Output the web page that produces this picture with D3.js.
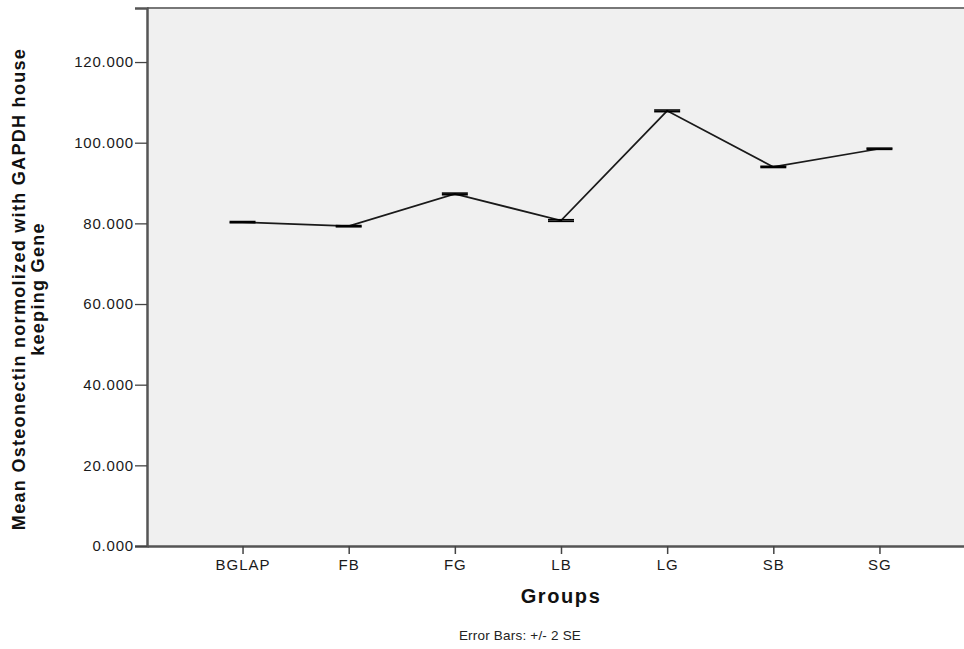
<!DOCTYPE html>
<html>
<head>
<meta charset="utf-8">
<script src="https://cdn.jsdelivr.net/npm/d3@7"></script>
<style>
  html, body { margin: 0; padding: 0; background: #ffffff; overflow: hidden; }
  svg { display: block; font-family: "Liberation Sans", Arial, sans-serif; }
</style>
</head>
<body>
<svg id="chart" width="964" height="649"></svg>
<script>
// Group means of osteonectin expression (normalized to GAPDH) with +/- 2 SE
const groups = ["BGLAP", "FB", "FG", "LB", "LG", "SB", "SG"];
const means = [80.3, 79.3, 87.3, 80.7, 107.9, 94.0, 98.5];
const errors = [0.15, 0.15, 0.2, 0.2, 0.2, 0.15, 0.15];
const yTicks = [0, 20, 40, 60, 80, 100, 120];

const svg = d3.select("#chart");
const plotLeft = 147, plotTop = 8, plotRight = 975, plotBottom = 546;

const x = d3.scalePoint().domain(groups).range([plotLeft, plotRight]).padding(0.9);
const y = d3.scaleLinear().domain([0, 133.4]).range([plotBottom, plotTop]);

// plot area
svg.append("rect")
  .attr("x", plotLeft).attr("y", plotTop)
  .attr("width", plotRight - plotLeft).attr("height", plotBottom - plotTop)
  .attr("fill", "#f0f0f0");

// top border
svg.append("line")
  .attr("x1", plotLeft).attr("x2", plotRight)
  .attr("y1", plotTop).attr("y2", plotTop)
  .attr("stroke", "#777").attr("stroke-width", 2);

// y axis
const yAxis = svg.append("g")
  .attr("transform", `translate(${plotLeft},0)`)
  .call(d3.axisLeft(y).tickValues(yTicks).tickFormat(d3.format(".3f")).tickSize(12).tickPadding(1));
yAxis.select(".domain").attr("stroke", "#555").attr("stroke-width", 2.5);
yAxis.selectAll(".tick line").attr("stroke", "#444").attr("stroke-width", 1.3);
yAxis.selectAll(".tick text").attr("font-size", 15).attr("fill", "#1a1a1a")
  .attr("letter-spacing", 0.8)
  .attr("font-family", "Liberation Sans, Arial, sans-serif");

// x axis
const xAxis = svg.append("g")
  .attr("transform", `translate(0,${plotBottom})`)
  .call(d3.axisBottom(x).tickSize(8).tickPadding(5).tickSizeOuter(0));
xAxis.select(".domain").attr("stroke", "#555").attr("stroke-width", 2.5);
xAxis.selectAll(".tick line").attr("stroke", "#444").attr("stroke-width", 1.5);
xAxis.selectAll(".tick text").attr("font-size", 15).attr("fill", "#1a1a1a")
  .attr("letter-spacing", 1)
  .attr("font-family", "Liberation Sans, Arial, sans-serif");

// mean line
const line = d3.line().x((d, i) => x(groups[i])).y(d => y(d));
svg.append("path")
  .datum(means)
  .attr("d", line)
  .attr("fill", "none")
  .attr("stroke", "#1a1a1a")
  .attr("stroke-width", 1.7);

// error bars
const capHalf = 13;
const eb = svg.append("g").selectAll("g").data(groups).join("g");
eb.append("line")
  .attr("x1", d => x(d)).attr("x2", d => x(d))
  .attr("y1", (d, i) => y(means[i] + errors[i]))
  .attr("y2", (d, i) => y(means[i] - errors[i]))
  .attr("stroke", "#000").attr("stroke-width", 1.5);
eb.append("line")
  .attr("x1", d => x(d) - capHalf).attr("x2", d => x(d) + capHalf)
  .attr("y1", (d, i) => y(means[i] + errors[i]))
  .attr("y2", (d, i) => y(means[i] + errors[i]))
  .attr("stroke", "#000").attr("stroke-width", 1.6);
eb.append("line")
  .attr("x1", d => x(d) - capHalf).attr("x2", d => x(d) + capHalf)
  .attr("y1", (d, i) => y(means[i] - errors[i]))
  .attr("y2", (d, i) => y(means[i] - errors[i]))
  .attr("stroke", "#000").attr("stroke-width", 1.6);

// axis titles
svg.append("text")
  .attr("x", 561).attr("y", 603)
  .attr("text-anchor", "middle")
  .attr("font-size", 20).attr("font-weight", "bold").attr("fill", "#111")
  .attr("letter-spacing", 1.6)
  .text("Groups");

const yTitle = svg.append("text")
  .attr("transform", "translate(0,289) rotate(-90)")
  .attr("text-anchor", "middle")
  .attr("font-size", 18).attr("font-weight", "bold").attr("fill", "#111")
  .attr("letter-spacing", 1.3);
yTitle.append("tspan").attr("x", 0).attr("y", 25).text("Mean Osteonectin normolized with GAPDH house");
yTitle.append("tspan").attr("x", 0).attr("y", 44).text("keeping Gene");

svg.append("text")
  .attr("x", 520).attr("y", 640)
  .attr("text-anchor", "middle")
  .attr("font-size", 13.5).attr("fill", "#222")
  .attr("letter-spacing", 0.2)
  .text("Error Bars: +/- 2 SE");
</script>
</body>
</html>
